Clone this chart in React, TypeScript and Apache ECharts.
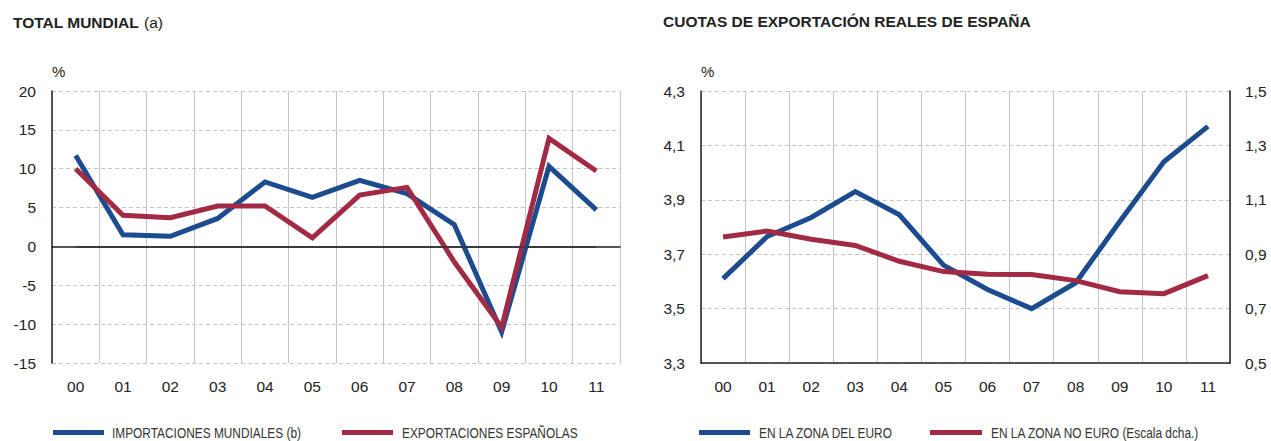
import React, { useEffect, useRef } from 'react';
import * as echarts from 'echarts';

const years = ['00', '01', '02', '03', '04', '05', '06', '07', '08', '09', '10', '11'];
// Left panel: TOTAL MUNDIAL (%)
const importacionesMundiales = [11.7, 1.5, 1.3, 3.6, 8.3, 6.3, 8.5, 6.8, 2.8, -11.0, 10.3, 4.7];
const exportacionesEspanolas = [10.0, 4.0, 3.7, 5.2, 5.2, 1.1, 6.6, 7.6, -2.0, -10.4, 13.9, 9.7];
// Right panel: CUOTAS DE EXPORTACIÓN REALES DE ESPAÑA (%)
const zonaEuro = [3.61, 3.765, 3.835, 3.93, 3.845, 3.66, 3.57, 3.5, 3.595, 3.82, 4.04, 4.17];
const zonaNoEuro = [0.963, 0.985, 0.955, 0.932, 0.874, 0.836, 0.826, 0.825, 0.803, 0.762, 0.755, 0.821];

const leftTitle = 'TOTAL MUNDIAL';
const leftTitleNote = '(a)';
const rightTitle = 'CUOTAS DE EXPORTACIÓN REALES DE ESPAÑA';
const seriesNames = [
  'IMPORTACIONES MUNDIALES (b)',
  'EXPORTACIONES ESPAÑOLAS',
  'EN LA ZONA DEL EURO',
  'EN LA ZONA NO EURO (Escala dcha.)',
];

const BLUE = '#1d4b8f';
const RED = '#a22a44';
const TEXT = '#222';
const AXIS = '#222';
const GRID = '#c4c4c4';
const FONT = '"Liberation Sans", Arial, Helvetica, sans-serif';

const comma = (v: number) => v.toFixed(1).replace('.', ',');

// legend layout (x of line start, line end, text start)
const legendLayout = [
  { x1: 53, x2: 104, tx: 112 },
  { x1: 342, x2: 393, tx: 402 },
  { x1: 699, x2: 750, tx: 759 },
  { x1: 930, x2: 982, tx: 991 },
];
const legendColors = [BLUE, RED, BLUE, RED];
const LEGEND_Y = 432.5;

export default function App() {
  const ref = useRef<HTMLDivElement>(null);
  useEffect(() => {
    if (!ref.current) return;
    const chart = echarts.init(ref.current, null, { renderer: 'svg' });

    const xAxisBase = {
      type: 'category',
      data: years,
      boundaryGap: true,
      axisLine: { show: true, lineStyle: { color: AXIS, width: 1.5 } },
      axisTick: { show: false },
      axisLabel: { color: TEXT, fontSize: 15.5, fontFamily: FONT, margin: 15 },
      splitLine: { show: true, lineStyle: { color: GRID, width: 1, type: 'solid' } },
    };

    const lineSeries = (name: string, data: number[], color: string, xi: number, yi: number) => ({
      name,
      type: 'line',
      data,
      xAxisIndex: xi,
      yAxisIndex: yi,
      showSymbol: false,
      symbol: 'none',
      z: 3,
      lineStyle: { color, width: 5, join: 'miter', cap: 'butt' },
      itemStyle: { color },
    });

    const legendGraphics: any[] = [];
    seriesNames.forEach((name, i) => {
      const l = legendLayout[i];
      legendGraphics.push({
        type: 'line',
        silent: true,
        shape: { x1: l.x1, y1: LEGEND_Y, x2: l.x2, y2: LEGEND_Y },
        style: { stroke: legendColors[i], lineWidth: 5 },
      });
      legendGraphics.push({
        type: 'text',
        silent: true,
        x: l.tx,
        y: LEGEND_Y + 0.5,
        scaleX: 0.82,
        style: {
          text: name,
          fill: '#333',
          font: `14.5px ${FONT}`,
          textAlign: 'left',
          textVerticalAlign: 'middle',
          verticalAlign: 'middle',
        },
      });
    });

    chart.setOption({
      animation: false,
      backgroundColor: '#fff',
      title: [
        {
          text: `{b|${leftTitle}} {n|${leftTitleNote}}`,
          left: 8,
          top: 8,
          textStyle: {
            rich: {
              b: { fontWeight: 'bold', fontSize: 15.5, fontFamily: FONT, color: TEXT },
              n: { fontWeight: 'normal', fontSize: 15.5, fontFamily: FONT, color: TEXT },
            },
          },
        },
        {
          text: rightTitle,
          left: 658,
          top: 8,
          textStyle: { fontWeight: 'bold', fontSize: 15.5, fontFamily: FONT, color: TEXT },
        },
      ],
      graphic: legendGraphics,
      grid: [
        { left: 52, top: 91, width: 568, height: 272, containLabel: false },
        { left: 701, top: 91, width: 529, height: 272, containLabel: false },
      ],
      xAxis: [
        { ...xAxisBase, gridIndex: 0 },
        { ...xAxisBase, gridIndex: 1 },
      ],
      yAxis: [
        {
          type: 'value',
          gridIndex: 0,
          min: -15,
          max: 20,
          interval: 5,
          name: '%',
          nameLocation: 'end',
          nameGap: 12,
          nameTextStyle: { align: 'left', color: TEXT, fontSize: 15, fontFamily: FONT },
          axisLine: { show: true, lineStyle: { color: AXIS, width: 1.5 } },
          axisTick: { show: false },
          axisLabel: { color: TEXT, fontSize: 15.5, fontFamily: FONT, margin: 16 },
          splitLine: { show: true, lineStyle: { color: GRID, width: 1, type: [4, 3] } },
        },
        {
          type: 'value',
          gridIndex: 1,
          position: 'left',
          min: 3.3,
          max: 4.3,
          interval: 0.2,
          name: '%',
          nameLocation: 'end',
          nameGap: 12,
          nameTextStyle: { align: 'left', color: TEXT, fontSize: 15, fontFamily: FONT },
          axisLine: { show: true, lineStyle: { color: AXIS, width: 1.5 } },
          axisTick: { show: false },
          axisLabel: { color: TEXT, fontSize: 15.5, fontFamily: FONT, margin: 16, formatter: comma },
          splitLine: { show: true, lineStyle: { color: GRID, width: 1, type: [4, 3] } },
        },
        {
          type: 'value',
          gridIndex: 1,
          position: 'right',
          min: 0.5,
          max: 1.5,
          interval: 0.2,
          axisLine: { show: true, lineStyle: { color: AXIS, width: 1.5 } },
          axisTick: { show: false },
          axisLabel: { color: TEXT, fontSize: 15.5, fontFamily: FONT, margin: 15, formatter: comma },
          splitLine: { show: false },
        },
      ],
      series: [
        {
          name: 'cero',
          type: 'line',
          xAxisIndex: 0,
          yAxisIndex: 0,
          data: [],
          z: 1,
          silent: true,
          markLine: {
            silent: true,
            symbol: 'none',
            label: { show: false },
            lineStyle: { color: '#333', width: 1.5, type: 'solid' },
            data: [[{ xAxis: years[0], yAxis: 0 }, { xAxis: years[years.length - 1], yAxis: 0 }]],
          },
        },
        lineSeries(seriesNames[0], importacionesMundiales, BLUE, 0, 0),
        lineSeries(seriesNames[1], exportacionesEspanolas, RED, 0, 0),
        lineSeries(seriesNames[2], zonaEuro, BLUE, 1, 1),
        lineSeries(seriesNames[3], zonaNoEuro, RED, 1, 2),
      ],
    });
    return () => chart.dispose();
  }, []);

  return (
    <div
      ref={ref}
      style={{ position: 'absolute', left: 0, top: 0, width: 1271, height: 441, background: '#fff' }}
    />
  );
}
